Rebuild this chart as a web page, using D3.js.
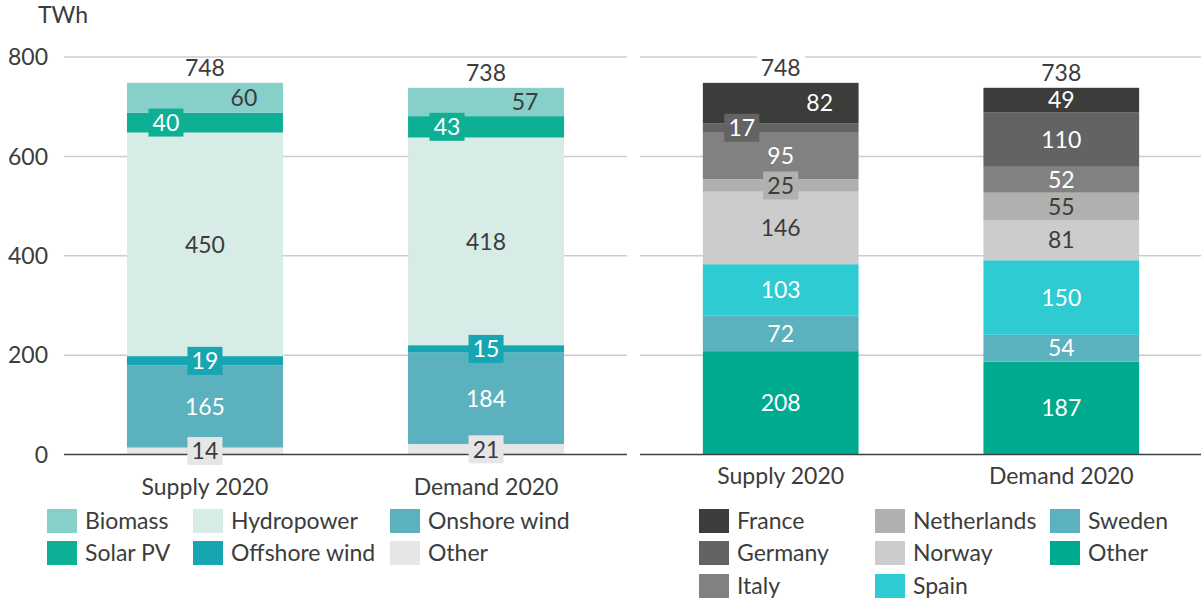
<!DOCTYPE html>
<meta charset="utf-8">
<script src="https://d3js.org/d3.v7.min.js"></script>
<style>
  body { margin: 0; background: #fff; }
  text { font-family: Lato, "Open Sans", sans-serif; fill: #3c3c3c; }
</style>
<div id="chart"></div>
<script>

// categories and values
var categories = ["Supply 2020", "Demand 2020"];
var yTicks = [0, 200, 400, 600, 800];

// left panel: by technology (bottom to top)
var techKeys = ["Other", "Onshore wind", "Offshore wind", "Hydropower", "Solar PV", "Biomass"];
var techSupply = [14, 165, 19, 450, 40, 60];
var techDemand = [21, 184, 15, 418, 43, 57];
var techLegend = ["Biomass", "Hydropower", "Onshore wind", "Solar PV", "Offshore wind", "Other"];

// right panel: by country (bottom to top)
var countryKeys = ["Other", "Sweden", "Spain", "Norway", "Netherlands", "Italy", "Germany", "France"];
var countrySupply = [208, 72, 103, 146, 25, 95, 17, 82];
var countryDemand = [187, 54, 150, 81, 55, 52, 110, 49];
var countryLegend = ["France", "Germany", "Italy", "Netherlands", "Norway", "Spain", "Sweden", "Other"];

var techColor = {
  "Biomass": "#87d0ca", "Hydropower": "#d7ece6", "Onshore wind": "#5bb1bd",
  "Solar PV": "#0eb095", "Offshore wind": "#18a5b2", "Other": "#e6e6e6"
};
var countryColor = {
  "France": "#3c3c3a", "Germany": "#636363", "Italy": "#818181", "Netherlands": "#b0b0ae",
  "Norway": "#cccccc", "Spain": "#2ecbd3", "Sweden": "#5bb1bd", "Other": "#00aa8e"
};
var darkText = ["#87d0ca", "#d7ece6", "#e6e6e6", "#b0b0ae", "#cccccc"];

// label placement: pos = fraction across bar, badge = boxed label
var techPlace = {
  "Supply 2020|Biomass": {pos: 0.75}, "Demand 2020|Biomass": {pos: 0.75},
  "Supply 2020|Solar PV": {pos: 0.25, badge: true}, "Demand 2020|Solar PV": {pos: 0.25, badge: true},
  "Supply 2020|Offshore wind": {badge: true}, "Demand 2020|Offshore wind": {badge: true},
  "Supply 2020|Other": {badge: true}, "Demand 2020|Other": {badge: true}
};
var countryPlace = {
  "Supply 2020|France": {pos: 0.75},
  "Supply 2020|Germany": {pos: 0.25, badge: true},
  "Supply 2020|Netherlands": {badge: true}
};

var W = 1201, H = 598, FS = "23px";
var svg = d3.select("#chart").append("svg").attr("width", W).attr("height", H);

var y = d3.scaleLinear().domain([0, 800]).range([454.5, 57]);

svg.append("text").attr("x", 38).attr("y", 23).text("TWh").style("font-size", FS);

// y axis tick labels
svg.selectAll(".ytick").data(yTicks).enter().append("text")
  .attr("x", 48).attr("y", function(d) { return y(d); })
  .attr("dy", "0.36em").attr("text-anchor", "end")
  .style("font-size", FS).text(function(d) { return d; });

function panel(x0, x1, keys, values, color, place, labelY, totalBg) {
  var x = d3.scaleBand().domain(categories).range([x0, x1]).paddingInner(0.445).paddingOuter(0.224);
  var g = svg.append("g");

  // gridlines
  g.selectAll(".grid").data(yTicks.filter(function(d) { return d > 0; })).enter().append("line")
    .attr("x1", x0).attr("x2", x1).attr("y1", function(d) { return y(d); }).attr("y2", function(d) { return y(d); })
    .attr("stroke", "#cccccc").attr("stroke-width", 1.5);

  var rows = categories.map(function(c, i) {
    var r = {cat: c};
    keys.forEach(function(k, j) { r[k] = values[i][j]; });
    return r;
  });
  var series = d3.stack().keys(keys)(rows);

  series.forEach(function(s) {
    g.selectAll(null).data(s).enter().append("rect")
      .attr("x", function(d) { return x(d.data.cat); })
      .attr("width", x.bandwidth())
      .attr("y", function(d) { return y(d[1]); })
      .attr("height", function(d) { return y(d[0]) - y(d[1]); })
      .attr("fill", color[s.key]);
  });

  // baseline
  g.append("line").attr("x1", x0).attr("x2", x1).attr("y1", y(0)).attr("y2", y(0))
    .attr("stroke", "#404040").attr("stroke-width", 1.5);

  // segment labels
  series.forEach(function(s) {
    s.forEach(function(d) {
      var c = d.data.cat, p = place[c + "|" + s.key] || {};
      var cx = x(c) + x.bandwidth() * (p.pos == null ? 0.5 : p.pos);
      var cy = y((d[0] + d[1]) / 2);
      var fill = color[s.key];
      if (p.badge) {
        g.append("rect").attr("x", cx - 17.5).attr("y", cy - 14).attr("width", 35).attr("height", 28).attr("fill", fill);
      }
      g.append("text").attr("x", cx).attr("y", cy).attr("dy", "0.36em").attr("text-anchor", "middle")
        .style("font-size", FS).style("fill", darkText.indexOf(fill) >= 0 ? "#3c3c3c" : "#ffffff")
        .text(d[1] - d[0]);
    });
  });

  // totals
  rows.forEach(function(r, i) {
    var tot = d3.sum(values[i]);
    var cx = x(r.cat) + x.bandwidth() / 2, ty = y(tot) - 15;
    if (totalBg) g.append("rect").attr("x", cx - 24).attr("y", ty - 14).attr("width", 48).attr("height", 26).attr("fill", "#fff");
    g.append("text").attr("x", cx).attr("y", ty).attr("dy", "0.36em").attr("text-anchor", "middle")
      .style("font-size", FS).text(tot);
  });

  // category labels
  g.selectAll(".cat").data(categories).enter().append("text")
    .attr("x", function(d) { return x(d) + x.bandwidth() / 2; }).attr("y", labelY)
    .attr("text-anchor", "middle").style("font-size", FS).text(function(d) { return d; });
}

panel(64, 627, techKeys, [techSupply, techDemand], techColor, techPlace, 495, false);
panel(640, 1202, countryKeys, [countrySupply, countryDemand], countryColor, countryPlace, 484, true);

function legend(items, color, xs, ys, colMajor) {
  var rowsN = ys.length, colsN = xs.length;
  items.forEach(function(k, i) {
    var col = colMajor ? Math.floor(i / rowsN) : i % colsN;
    var row = colMajor ? i % rowsN : Math.floor(i / colsN);
    var lx = xs[col], ly = ys[row];
    svg.append("rect").attr("x", lx).attr("y", ly - 12).attr("width", 30).attr("height", 24).attr("fill", color[k]);
    svg.append("text").attr("x", lx + 38).attr("y", ly).attr("dy", "0.36em").style("font-size", FS).text(k);
  });
}
legend(techLegend, techColor, [47, 193, 390], [521, 553], false);
legend(countryLegend, countryColor, [699, 875, 1050], [521, 553, 586], true);

</script>
